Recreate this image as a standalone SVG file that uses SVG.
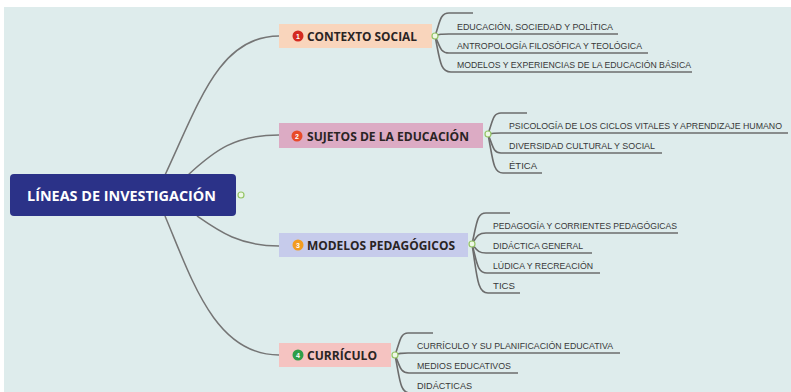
<svg xmlns="http://www.w3.org/2000/svg" width="791" height="392" viewBox="0 0 791 392">
<style>
.bg{fill:#deecec}
.main{fill:none;stroke:#757575;stroke-width:1.5}
.sub{fill:none;stroke:#6c6c6c;stroke-width:1.6}
.jn{fill:#eef7e6;stroke:#95c566;stroke-width:1.2}
.ht{font-family:"Open Sans","Liberation Sans",sans-serif;font-weight:bold;font-size:12.5px;fill:#2a2424}
.rt{font-family:"Open Sans","Liberation Sans",sans-serif;font-weight:bold;font-size:14px;fill:#ffffff}
.st{font-family:"Liberation Sans",sans-serif;font-size:9.5px;fill:#383838}
.num{font-family:"Liberation Sans",sans-serif;font-weight:bold;font-size:7px;fill:#ffffff;text-anchor:middle}
</style>
<rect x="0" y="0" width="791" height="392" fill="#ffffff"/>
<rect class="bg" x="4" y="7" width="787" height="385"/>
<g id="connectors">
<path class="main" d="M165,175 C200,100 220,36 279,36"/>
<path class="main" d="M188,175 C215,150 235,135 279,135"/>
<path class="main" d="M197,216 C220,232 240,246 279,246"/>
<path class="main" d="M165,216 C192,280 215,355 279,355"/>
<path class="sub" d="M435,36 C440,22 440,13 449,13 L473,13"/>
<path class="sub" d="M435,36 C440,34 441,34 449,34 L618,34"/>
<path class="sub" d="M435,36 C440,46 440,53 449,53 L648,53"/>
<path class="sub" d="M435,36 C440,60 440,72 451,72 L692,72"/>
<path class="sub" d="M488,134 C493,120 493,113 501,113 L527,113"/>
<path class="sub" d="M488,134 C493,133 494,133 501,133 L788,133"/>
<path class="sub" d="M488,134 C493,146 493,153 501,153 L662,153"/>
<path class="sub" d="M488,134 C493,160 493,173 503,173 L542,173"/>
<path class="sub" d="M472,244 C477,222 477,213 486,213 L510,213"/>
<path class="sub" d="M472,244 C477,236 478,233 486,233 L678,233"/>
<path class="sub" d="M472,244 C477,250 478,253 486,253 L592,253"/>
<path class="sub" d="M472,244 C477,262 477,273 487,273 L600,273"/>
<path class="sub" d="M472,244 C477,275 477,293 488,293 L520,293"/>
<path class="sub" d="M395,355 C400,342 400,333 408,333 L433,333"/>
<path class="sub" d="M395,355 C400,353 401,353 408,353 L620,353"/>
<path class="sub" d="M395,355 C400,366 400,373 409,373 L518,373"/>
<path class="sub" d="M395,355 C400,380 400,393 410,393 L476,393"/>
</g>
<g id="root">
<rect x="10" y="174" width="226" height="42" rx="4" fill="#2b3288"/>
<text class="rt" x="27" y="201" textLength="189" lengthAdjust="spacingAndGlyphs">LÍNEAS DE INVESTIGACIÓN</text>
<circle class="jn" cx="241" cy="195" r="3"/>
</g>
<g id="contexto">
<rect x="279" y="24" width="153" height="24" fill="#f9d5bc"/>
<circle cx="298" cy="36" r="5.5" fill="#d42a20"/>
<text class="num" x="298" y="38.5">1</text>
<text class="ht" x="307" y="40.5" textLength="110" lengthAdjust="spacingAndGlyphs">CONTEXTO SOCIAL</text>
<circle class="jn" cx="435" cy="36" r="3"/>
</g>
<g id="contexto-items">
<text class="st" x="457" y="29.5" textLength="156" lengthAdjust="spacingAndGlyphs">EDUCACIÓN, SOCIEDAD Y POLÍTICA</text>
<text class="st" x="457" y="48.5" textLength="185" lengthAdjust="spacingAndGlyphs">ANTROPOLOGÍA FILOSÓFICA Y TEOLÓGICA</text>
<text class="st" x="457" y="67.5" textLength="234" lengthAdjust="spacingAndGlyphs">MODELOS Y EXPERIENCIAS DE LA EDUCACIÓN BÁSICA</text>
</g>
<g id="sujetos">
<rect x="279" y="123" width="204" height="25" fill="#dcabc4"/>
<circle cx="297" cy="136" r="5.5" fill="#e84a2a"/>
<text class="num" x="297" y="138.5">2</text>
<text class="ht" x="307" y="140.5" textLength="162" lengthAdjust="spacingAndGlyphs">SUJETOS DE LA EDUCACIÓN</text>
<circle class="jn" cx="488" cy="134" r="3"/>
</g>
<g id="sujetos-items">
<text class="st" x="509" y="128.5" textLength="273" lengthAdjust="spacingAndGlyphs">PSICOLOGÍA DE LOS CICLOS VITALES Y APRENDIZAJE HUMANO</text>
<text class="st" x="509" y="148.5" textLength="146" lengthAdjust="spacingAndGlyphs">DIVERSIDAD CULTURAL Y SOCIAL</text>
<text class="st" x="509" y="168.5" textLength="28" lengthAdjust="spacingAndGlyphs">ÉTICA</text>
</g>
<g id="modelos">
<rect x="279" y="233" width="189" height="24" fill="#c6cbeb"/>
<circle cx="298" cy="245" r="5.5" fill="#f39c1f"/>
<text class="num" x="298" y="247.5">3</text>
<text class="ht" x="307" y="250" textLength="148" lengthAdjust="spacingAndGlyphs">MODELOS PEDAGÓGICOS</text>
<circle class="jn" cx="472" cy="244" r="3"/>
</g>
<g id="modelos-items">
<text class="st" x="493" y="228.5" textLength="184" lengthAdjust="spacingAndGlyphs">PEDAGOGÍA Y CORRIENTES PEDAGÓGICAS</text>
<text class="st" x="493" y="248.5" textLength="90" lengthAdjust="spacingAndGlyphs">DIDÁCTICA GENERAL</text>
<text class="st" x="493" y="268.5" textLength="100" lengthAdjust="spacingAndGlyphs">LÚDICA Y RECREACIÓN</text>
<text class="st" x="493" y="288.5" textLength="22" lengthAdjust="spacingAndGlyphs">TICS</text>
</g>
<g id="curriculo">
<rect x="279" y="343" width="112" height="24" fill="#f5c3c1"/>
<circle cx="298" cy="355" r="5.5" fill="#2e9e48"/>
<text class="num" x="298" y="357.5">4</text>
<text class="ht" x="307" y="359.5" textLength="70" lengthAdjust="spacingAndGlyphs">CURRÍCULO</text>
<circle class="jn" cx="395" cy="355" r="3"/>
</g>
<g id="curriculo-items">
<text class="st" x="417" y="348.5" textLength="196" lengthAdjust="spacingAndGlyphs">CURRÍCULO Y SU PLANIFICACIÓN EDUCATIVA</text>
<text class="st" x="417" y="368.5" textLength="94" lengthAdjust="spacingAndGlyphs">MEDIOS EDUCATIVOS</text>
<text class="st" x="417" y="388.5" textLength="55" lengthAdjust="spacingAndGlyphs">DIDÁCTICAS</text>
</g>
</svg>
